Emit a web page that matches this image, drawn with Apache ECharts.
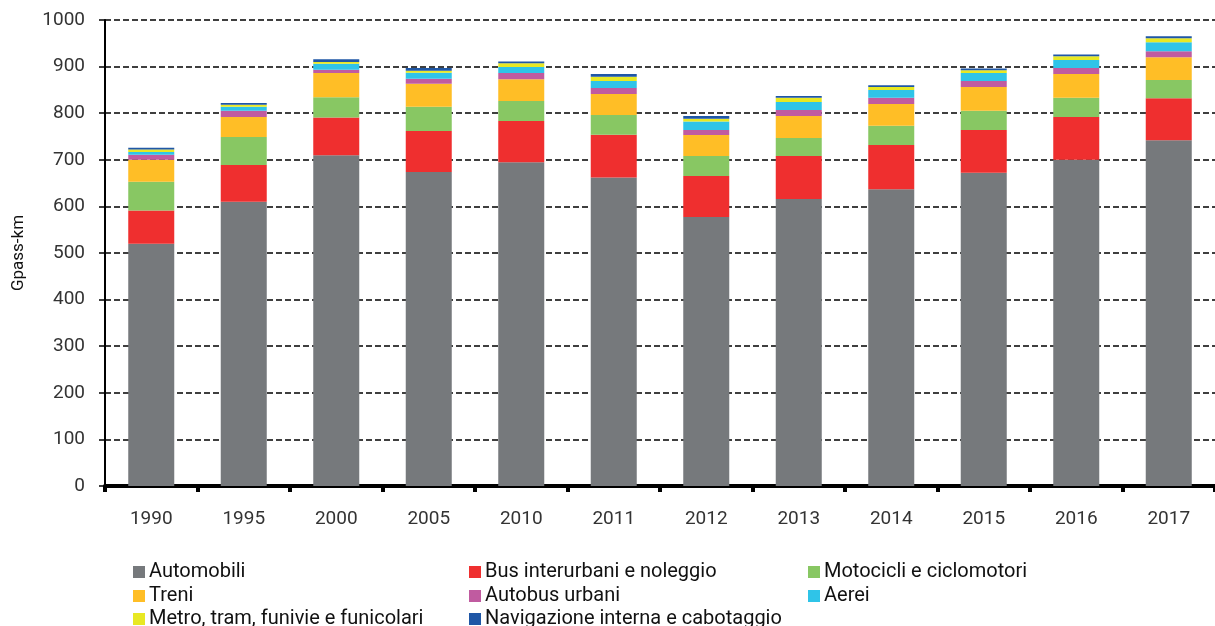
<!DOCTYPE html>
<html><head><meta charset="utf-8">
<script src="https://cdn.jsdelivr.net/npm/echarts@6/dist/echarts.min.js"></script>
<style>html,body{margin:0;padding:0;background:#fff}#c{width:1215px;height:626px}</style>
</head><body><div id="c"></div>
<script>
const years = ['1990','1995','2000','2005','2010','2011','2012','2013','2014','2015','2016','2017'];
const automobili = [520, 610, 710, 674, 695, 662, 577, 616, 637, 672, 700, 742];
const busInterurbani = [71, 79, 81, 88, 88, 92, 88, 92, 95, 92, 92, 90];
const motocicli = [62, 60, 43, 52, 43, 42, 43, 39, 41, 41, 41, 39];
const treni = [47, 43, 52, 49, 47, 45, 45, 47, 47, 51, 51, 49];
const autobusUrbani = [11, 13, 7, 11, 13, 13, 11, 13, 13, 13, 13, 13];
const aerei = [6, 9, 13, 13, 13, 15, 18, 17, 17, 17, 17, 19];
const metro = [5, 4, 4, 4, 8, 9, 6, 9, 6, 6, 8, 9];
const navigazione = [4, 4, 6, 6, 4, 6, 6, 4, 4, 4, 4, 4];
const yTicks = [0, 100, 200, 300, 400, 500, 600, 700, 800, 900, 1000];

const seriesDefs = [
  ['Automobili', automobili, '#76797c'],
  ['Bus interurbani e noleggio', busInterurbani, '#ef2f2f'],
  ['Motocicli e ciclomotori', motocicli, '#88c763'],
  ['Treni', treni, '#ffbe26'],
  ['Autobus urbani', autobusUrbani, '#c05ba0'],
  ['Aerei', aerei, '#2fc4e8'],
  ['Metro, tram, funivie e funicolari', metro, '#e8e823'],
  ['Navigazione interna e cabotaggio', navigazione, '#1f57a6']
];
const FONT = 'Roboto';
const chart = echarts.init(document.getElementById('c'), null, {renderer: 'canvas'});
const colX = [133, 469, 808];
const rowY = [562, 586, 609];
const legends = seriesDefs.map((s, i) => ({
  orient: 'horizontal', left: colX[i % 3], top: rowY[Math.floor(i / 3)], padding: 0,
  itemWidth: 12, itemHeight: 12, icon: 'rect', selectedMode: false,
  data: [s[0]],
  textStyle: {fontFamily: FONT, fontSize: 20, color: '#111', padding: [0, 0, 0, -1]}
}));
chart.setOption({
  animation: false,
  grid: {left: 105, right: -8, top: 20, bottom: 140, containLabel: false},
  legend: legends,
  xAxis: {
    type: 'category', data: years,
    axisLine: {lineStyle: {color: '#000', width: 4}},
    axisTick: {show: true, length: 6, lineStyle: {color: '#000', width: 4}},
    axisLabel: {fontFamily: FONT, fontSize: 19, color: '#333', margin: 24}
  },
  yAxis: {
    type: 'value', min: yTicks[0], max: yTicks[yTicks.length - 1], interval: 100,
    name: 'Gpass-km', nameLocation: 'middle', nameGap: 78, nameRotate: 90,
    nameTextStyle: {fontFamily: FONT, fontSize: 17, color: '#111'},
    axisLine: {show: true, lineStyle: {color: '#000', width: 2}},
    axisTick: {show: true, length: 6, lineStyle: {color: '#000', width: 1.5}},
    axisLabel: {fontFamily: FONT, fontSize: 19, color: '#333', margin: 20, formatter: v => String(v)},
    splitLine: {show: true, lineStyle: {color: '#000', width: 1.5, type: [6, 3]}}
  },
  series: seriesDefs.map(([name, data, color]) => ({
    name, type: 'bar', stack: 'total', data, barWidth: 46,
    itemStyle: {color}, emphasis: {disabled: true}
  }))
});
</script></body></html>
